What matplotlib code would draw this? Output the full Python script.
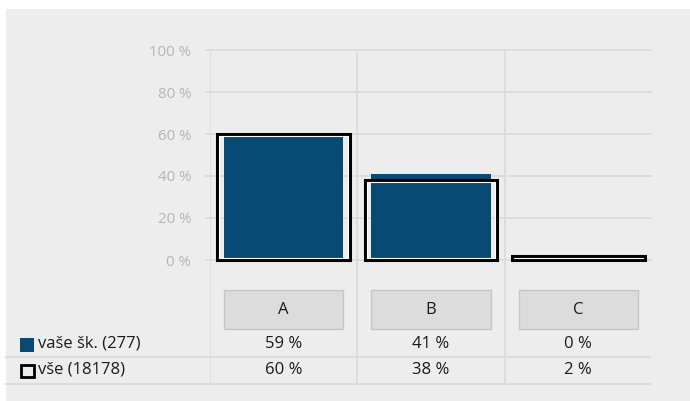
import matplotlib
matplotlib.use("Agg")
import matplotlib.pyplot as plt
from matplotlib.patches import Rectangle
from matplotlib.lines import Line2D

categories = ["A", "B", "C"]
school_label = "vaše šk. (277)"
all_label = "vše (18178)"
school_values = [59, 41, 0]
all_values = [60, 38, 2]
yticks = [0, 20, 40, 60, 80, 100]
ytick_labels = ["0 %", "20 %", "40 %", "60 %", "80 %", "100 %"]

W, H = 690, 401
DPI = 100
BLUE = "#074a73"
BG = "#ededed"
GRID = "#dcdcdc"
TEXT = "#1a1a1a"
FONT = ["Open Sans", "DejaVu Sans"]
FS = 12.0

fig = plt.figure(figsize=(W / DPI, H / DPI), dpi=DPI)
fig.patch.set_facecolor("white")

# gray panel
fig.patches.append(Rectangle((6 / W, 0), 1 - 6 / W, 1 - 9 / H, transform=fig.transFigure,
                             facecolor=BG, edgecolor="none", zorder=-5))

# axes geometry in pixels
ax_left, ax_right = 210, 652
y0_px, y100_px = 260, 50
bottom_px, top_px = 384, 40
ppu = (y0_px - y100_px) / 100.0
ymin = -(bottom_px - y0_px) / ppu
ymax = 100 + (y100_px - top_px) / ppu

ax = fig.add_axes([ax_left / W, 1 - bottom_px / H, (ax_right - ax_left) / W,
                   (bottom_px - top_px) / H])
ax.set_zorder(2)
ax.set_facecolor("none")
ax.set_xlim(-0.5, 2.5)
ax.set_ylim(ymin, ymax)
for s in ax.spines.values():
    s.set_visible(False)

def py(px):
    return -(px - y0_px) / ppu

xppu = (ax_right - ax_left) / 3.0
x = list(range(len(categories)))

# horizontal gridlines (with small tick stub to the left)
ax.hlines(yticks, -0.5 - 5 / xppu, 2.5, colors=GRID, linewidth=1.3, zorder=1, clip_on=False)
# vertical gridlines
ax.vlines([-0.5, 0.5, 1.5], ymin, 100, colors=GRID, linewidth=1.3, zorder=1)

ax.set_xticks([])
ax.set_yticks(yticks)
ax.set_yticklabels(ytick_labels, family=FONT, fontsize=10.8, color="#b5b5b5")
ax.tick_params(axis="y", length=0, pad=13.5)

# bars
ax.bar(x, school_values, width=0.81, color=BLUE, zorder=2)
ax.bar(x, all_values, width=0.9, fill=False, edgecolor="black", linewidth=2.2, zorder=3)
inset_y = 1.9 / ppu
inset_x = 1.9 / xppu
ax.bar(x, [max(v - 2 * inset_y, 0) for v in all_values], bottom=inset_y,
       width=0.9 - 2 * inset_x, fill=False, edgecolor="white", linewidth=0.8, zorder=3)

# category boxes
box_top, box_bot = py(290), py(329)
for xi, c in zip(x, categories):
    ax.add_patch(Rectangle((xi - 0.405, box_bot), 0.81, box_top - box_bot,
                           facecolor="#dcdcdc", edgecolor="#c6c6c6", linewidth=1, zorder=2))
    ax.text(xi, (box_top + box_bot) / 2, c, ha="center", va="center",
            family=FONT, fontsize=FS, color=TEXT, zorder=3)

# table rows
row1_y, row2_y = py(344), py(370)
for xi, v in zip(x, school_values):
    ax.text(xi, row1_y, f"{v} %", ha="center", va="center", family=FONT, fontsize=FS, color=TEXT)
for xi, v in zip(x, all_values):
    ax.text(xi, row2_y, f"{v} %", ha="center", va="center", family=FONT, fontsize=FS, color=TEXT)

# row separator lines (extend to left panel edge)
for ypx in (357, 384):
    fig.add_artist(Line2D([6 / W, 650 / W], [1 - ypx / H, 1 - ypx / H], transform=fig.transFigure,
                          color=GRID, linewidth=1.6, zorder=1))

# legend entries
fig.patches.append(Rectangle((20 / W, 1 - 352 / H), 14 / W, 14 / H, transform=fig.transFigure,
                             facecolor=BLUE, edgecolor="none", zorder=3))
fig.patches.append(Rectangle((20.5 / W, 1 - 377 / H), 13 / W, 12.5 / H, transform=fig.transFigure,
                             facecolor="none", edgecolor="black", linewidth=2.0, zorder=3))
fig.text(38 / W, 1 - 344 / H, school_label, ha="left", va="center", family=FONT, fontsize=FS, color=TEXT)
fig.text(38 / W, 1 - 370 / H, all_label, ha="left", va="center", family=FONT, fontsize=FS, color=TEXT)

fig.savefig("out.png", dpi=DPI, facecolor=fig.get_facecolor())
